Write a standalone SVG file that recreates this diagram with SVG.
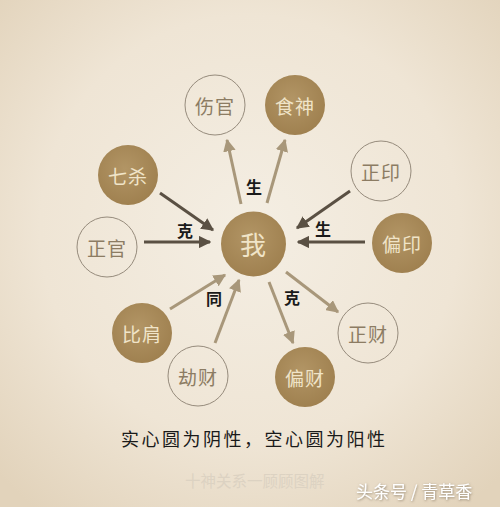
<svg xmlns="http://www.w3.org/2000/svg" width="500" height="507" viewBox="0 0 500 507">
<defs>
<radialGradient id="bg" cx="50%" cy="45%" r="70%">
<stop offset="0" stop-color="#f4eee3"/>
<stop offset="0.6" stop-color="#efe5d5"/>
<stop offset="1" stop-color="#e2d3bb"/>
</radialGradient>
<radialGradient id="fill" cx="45%" cy="40%" r="65%">
<stop offset="0" stop-color="#b29565"/>
<stop offset="1" stop-color="#9e7f4e"/>
</radialGradient>
<filter id="sh" x="-10%" y="-30%" width="120%" height="160%">
<feDropShadow dx="0.6" dy="0.8" stdDeviation="0.8" flood-color="#6e604c" flood-opacity="0.7"/>
</filter>
<marker id="ad" viewBox="0 0 10 10" refX="9" refY="5" markerWidth="4.2" markerHeight="4.2" orient="auto" markerUnits="strokeWidth">
<path d="M0,0 L10,5 L0,10 z" fill="#5a5043"/>
</marker>
<marker id="al" viewBox="0 0 10 10" refX="9" refY="5" markerWidth="4.2" markerHeight="4.2" orient="auto" markerUnits="strokeWidth">
<path d="M0,0 L10,5 L0,10 z" fill="#a8977a"/>
</marker>
</defs>
<style>
.solid{fill:url(#fill);}
.hollow{fill:none;stroke:#968b7c;stroke-width:1;}
.ts{font-family:"Noto Sans CJK SC",sans-serif;font-size:19px;fill:#f0e4c8;text-anchor:middle;dominant-baseline:central;letter-spacing:1px;}
.th{font-family:"Noto Sans CJK SC",sans-serif;font-size:19px;fill:#8c7c63;text-anchor:middle;dominant-baseline:central;letter-spacing:1px;}
.dk{stroke:#5a5043;stroke-width:3;fill:none;marker-end:url(#ad);}
.lt{stroke:#a8977a;stroke-width:3;fill:none;marker-end:url(#al);}
.lb{font-family:"Noto Sans CJK SC",sans-serif;font-size:16px;font-weight:bold;fill:#1a1a1a;text-anchor:middle;dominant-baseline:central;}
</style>
<rect width="500" height="507" fill="url(#bg)"/>
<g id="connectors">
<line class="lt" x1="241" y1="204" x2="227" y2="140"/>
<line class="lt" x1="267" y1="203" x2="285" y2="140"/>
<line class="dk" x1="160" y1="193" x2="213" y2="230"/>
<line class="dk" x1="144" y1="242" x2="210" y2="242"/>
<line class="dk" x1="350" y1="191" x2="297" y2="228"/>
<line class="dk" x1="365" y1="242" x2="298" y2="242"/>
<line class="lt" x1="170" y1="309" x2="225" y2="275"/>
<line class="lt" x1="215" y1="343" x2="239" y2="280"/>
<line class="lt" x1="286" y1="272" x2="338" y2="312"/>
<line class="lt" x1="269" y1="282" x2="293" y2="343"/>
<text class="lb" x="254" y="186">生</text>
<text class="lb" x="185" y="230">克</text>
<text class="lb" x="323" y="228">生</text>
<text class="lb" x="214" y="298">同</text>
<text class="lb" x="292" y="297">克</text>
</g>
<g id="wo"><circle class="solid" cx="253.5" cy="244" r="32.5"/><text class="ts" x="253.5" y="243" style="font-size:26px">我</text></g>
<g id="shangguan"><circle class="hollow" cx="215" cy="105" r="30"/><text class="th" x="215" y="105">伤官</text></g>
<g id="shishen"><circle class="solid" cx="295" cy="105" r="30"/><text class="ts" x="295" y="105">食神</text></g>
<g id="qisha"><circle class="solid" cx="128" cy="175" r="30"/><text class="ts" x="128" y="175">七杀</text></g>
<g id="zhengguan"><circle class="hollow" cx="107" cy="247" r="30"/><text class="th" x="107" y="247">正官</text></g>
<g id="zhengyin"><circle class="hollow" cx="381" cy="171" r="30"/><text class="th" x="381" y="171">正印</text></g>
<g id="pianyin"><circle class="solid" cx="402" cy="243" r="30"/><text class="ts" x="402" y="243">偏印</text></g>
<g id="bijian"><circle class="solid" cx="142" cy="333" r="30"/><text class="ts" x="142" y="333">比肩</text></g>
<g id="jiecai"><circle class="hollow" cx="198" cy="376" r="30"/><text class="th" x="198" y="376">劫财</text></g>
<g id="zhengcai"><circle class="hollow" cx="368" cy="333" r="30"/><text class="th" x="368" y="333">正财</text></g>
<g id="piancai"><circle class="solid" cx="305" cy="377" r="30"/><text class="ts" x="305" y="377">偏财</text></g>
<text x="121" y="438" font-family="Noto Sans CJK SC, sans-serif" font-size="18" fill="#1a1a1a" letter-spacing="2.5" dominant-baseline="central">实心圆为阴性，空心圆为阳性</text>
<text x="185" y="480" font-family="Noto Sans CJK SC, sans-serif" font-size="15.5" fill="#dcd2c2" dominant-baseline="central">十神关系一顾顾图解</text>
<text x="356" y="490" font-family="Noto Sans CJK SC, sans-serif" font-size="17" fill="#ffffff" filter="url(#sh)" dominant-baseline="central">头条号 / 青草香</text>
</svg>
